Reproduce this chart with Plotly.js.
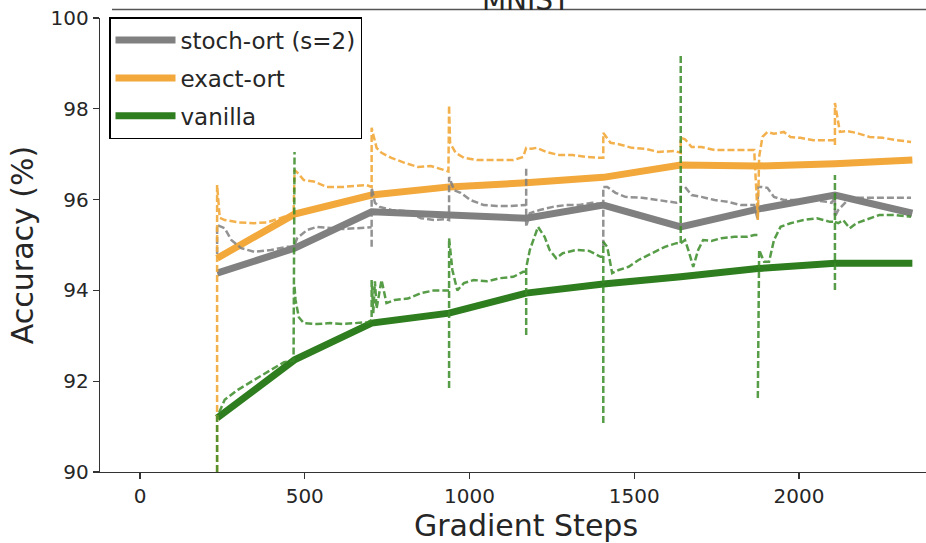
<!DOCTYPE html>
<html>
<head>
<meta charset="utf-8">
<script src="https://cdn.plot.ly/plotly-3.0.1.min.js"></script>
<style>
html, body { margin: 0; padding: 0; overflow: hidden; background: #fff; }
#chart { width: 952px; height: 543px; }
</style>
</head>
<body>
<div id="chart"></div>
<script>
// Epoch-end evaluation steps and smoothed accuracies (thick lines)
const epochSteps = [234, 469, 703, 938, 1172, 1406, 1641, 1875, 2109, 2344];
const stochOrt = [94.38, 94.93, 95.73, 95.66, 95.59, 95.88, 95.40, 95.79, 96.10, 95.70];
const exactOrt = [94.71, 95.68, 96.10, 96.28, 96.37, 96.49, 96.76, 96.74, 96.79, 96.87];
const vanilla  = [91.19, 92.47, 93.28, 93.50, 93.94, 94.14, 94.30, 94.48, 94.60, 94.60];

// Per-step running accuracies (dashed lines); null = pen lift at a spike
const exactOrtStepX = [234, 234, 242, 257, 297, 347, 387, 437, 466, 469, 477, 497, 527, 567, 617, 687, 703, 703, 718, 733, 763, 803, 843, 883, 923, 936, 938, 941, 958, 983, 1023, 1083, 1133, 1163, 1172, 1188, 1203, 1233, 1273, 1313, 1353, 1393, 1406, 1406, 1428, 1453, 1493, 1533, 1573, 1623, 1641, 1641, 1654, 1674, 1704, 1744, 1784, 1824, 1864, 1875, 1879, 1889, 1904, 1924, 1954, 1974, 2004, 2044, 2084, 2099, 2109, 2109, 2109, 2109, 2124, 2144, 2174, 2214, 2254, 2294, 2340];
const exactOrtStepY = [90.0, 96.32, 95.60, 95.55, 95.50, 95.48, 95.50, 95.62, 95.62, 96.65, 96.60, 96.43, 96.40, 96.28, 96.28, 96.32, 96.28, 97.58, 97.14, 97.03, 96.92, 96.81, 96.72, 96.74, 96.65, 96.62, 98.08, 97.25, 97.03, 96.92, 96.87, 96.87, 96.87, 96.94, 97.14, 97.12, 97.14, 97.05, 96.98, 96.98, 96.94, 96.92, 96.92, 97.47, 97.25, 97.22, 97.14, 97.12, 97.05, 97.07, 97.03, 97.36, 97.33, 97.16, 97.16, 97.09, 97.09, 97.09, 97.09, 95.55, 96.94, 97.38, 97.49, 97.45, 97.49, 97.38, 97.36, 97.31, 97.31, 97.31, 97.31, null, 97.20, 98.13, 97.49, 97.51, 97.47, 97.38, 97.36, 97.31, 97.27];

const stochOrtStepX = [234, 234, 257, 277, 307, 347, 397, 447, 466, 469, 477, 507, 537, 577, 617, 657, 692, 703, 703, 703, 703, 713, 728, 763, 803, 853, 893, 928, 938, 938, 953, 973, 1003, 1043, 1083, 1123, 1158, 1172, 1172, 1172, 1172, 1183, 1213, 1253, 1293, 1333, 1373, 1398, 1406, 1406, 1406, 1406, 1418, 1443, 1473, 1523, 1573, 1628, 1641, 1641, 1654, 1674, 1704, 1744, 1784, 1824, 1864, 1875, 1875, 1884, 1904, 1924, 1954, 1994, 2044, 2084, 2099, 2109, 2109, 2119, 2134, 2154, 2194, 2244, 2294, 2340];
const stochOrtStepY = [94.80, 95.44, 95.37, 95.11, 94.93, 94.85, 94.89, 94.96, 94.96, 95.00, 95.15, 95.33, 95.40, 95.37, 95.35, 95.37, 95.39, 95.39, null, 94.96, 96.26, 95.93, 95.84, 95.77, 95.75, 95.59, 95.55, 95.57, 95.55, 96.50, 96.21, 96.15, 95.99, 95.88, 95.86, 95.86, 95.88, 95.88, null, 96.68, 95.40, 95.70, 95.77, 95.84, 95.88, 95.88, 95.93, 95.90, 95.90, null, 94.96, 96.28, 96.28, 96.15, 96.06, 96.04, 95.99, 95.93, 95.95, 96.28, 96.28, 96.10, 96.06, 95.99, 95.95, 95.88, 95.88, 95.55, 96.28, 96.28, 96.26, 96.06, 95.99, 95.99, 95.99, 95.95, 95.93, 96.06, 95.62, 95.77, 95.88, 96.04, 96.04, 96.04, 96.04, 96.04];

const vanillaStepX = [234, 234, 257, 297, 347, 397, 437, 466, 469, 469, 469, 472, 482, 497, 537, 577, 617, 657, 692, 703, 703, 708, 713, 718, 733, 748, 773, 813, 853, 893, 928, 938, 938, 938, 938, 948, 963, 983, 1013, 1053, 1093, 1133, 1163, 1172, 1172, 1172, 1172, 1183, 1208, 1228, 1243, 1263, 1283, 1323, 1363, 1398, 1406, 1406, 1406, 1406, 1418, 1433, 1453, 1483, 1513, 1553, 1593, 1628, 1641, 1641, 1641, 1641, 1654, 1664, 1679, 1694, 1709, 1734, 1764, 1804, 1844, 1864, 1875, 1875, 1875, 1879, 1894, 1909, 1924, 1944, 1974, 2014, 2054, 2094, 2109, 2109, 2109, 2109, 2109, 2109, 2119, 2134, 2154, 2174, 2204, 2244, 2294, 2340];
const vanillaStepY = [90.0, 91.21, 91.59, 91.81, 92.03, 92.25, 92.42, 92.45, 97.05, null, 94.08, 93.79, 93.41, 93.28, 93.26, 93.28, 93.26, 93.28, 93.30, 93.35, 94.23, 93.50, 94.20, 93.60, 94.23, 93.72, 93.79, 93.82, 93.94, 94.00, 94.00, 94.00, null, 91.85, 95.15, 94.45, 94.00, 94.16, 94.23, 94.20, 94.27, 94.30, 94.41, 94.41, null, 93.02, 94.50, 94.89, 95.40, 95.18, 94.89, 94.71, 94.82, 94.89, 94.87, 94.74, 94.74, null, 91.08, 95.07, 94.96, 94.38, 94.45, 94.52, 94.67, 94.82, 94.96, 95.04, 95.04, 99.23, null, 95.04, 95.11, 94.89, 94.52, 94.89, 95.11, 95.09, 95.15, 95.18, 95.18, 95.22, 95.22, null, 91.63, 94.89, 94.63, 94.63, 95.11, 95.40, 95.48, 95.55, 95.59, 95.51, 95.51, null, 94.01, 96.54, null, 95.51, 95.48, 95.55, 95.37, 95.48, 95.55, 95.66, 95.66, 95.62];

const seriesNames = ['stoch-ort (s=2)', 'exact-ort', 'vanilla'];
const xTicks = [0, 500, 1000, 1500, 2000];
const yTicks = [90, 92, 94, 96, 98, 100];

const cGray = '#808080';
const cOrange = '#f2a83a';
const cGreen = '#2e7d1e';
const dash = '7px,3px';

const traces = [
  {x: epochSteps, y: stochOrt, name: seriesNames[0], mode: 'lines', legendgroup: 'a',
   line: {color: cGray, width: 7}},
  {x: epochSteps, y: exactOrt, name: seriesNames[1], mode: 'lines', legendgroup: 'b',
   line: {color: cOrange, width: 7}},
  {x: epochSteps, y: vanilla, name: seriesNames[2], mode: 'lines', legendgroup: 'c',
   line: {color: cGreen, width: 7}},
  {x: stochOrtStepX, y: stochOrtStepY, mode: 'lines', showlegend: false, opacity: 0.85, connectgaps: false,
   line: {color: cGray, width: 2.5, dash: dash}, hoverinfo: 'skip'},
  {x: exactOrtStepX, y: exactOrtStepY, mode: 'lines', showlegend: false, opacity: 0.9, connectgaps: false,
   line: {color: cOrange, width: 2.5, dash: dash}, hoverinfo: 'skip'},
  {x: vanillaStepX, y: vanillaStepY, mode: 'lines', showlegend: false, opacity: 0.85, connectgaps: false,
   line: {color: '#3a8c28', width: 2.5, dash: dash}, hoverinfo: 'skip'}
];

const font = 'DejaVu Sans, Liberation Sans, sans-serif';
const axisCommon = {
  showgrid: false, zeroline: false, showline: true, linecolor: '#333', linewidth: 1.2,
  ticks: 'outside', ticklen: 6, tickwidth: 1.2, tickcolor: '#333',
  tickfont: {family: font, size: 20, color: '#262626'}
};

const layout = {
  width: 952, height: 543,
  margin: {l: 100, r: 0, t: 18, b: 71},
  paper_bgcolor: '#fff', plot_bgcolor: '#fff',
  font: {family: font, color: '#262626'},
  title: {text: 'MNIST', font: {family: font, size: 28, color: '#262626'},
          x: 526 / 952, xanchor: 'center', xref: 'container', yref: 'container', y: 1, yanchor: 'middle'},
  xaxis: Object.assign({}, axisCommon, {
    range: [-121.4, 2464.3], tickvals: xTicks, ticktext: xTicks.map(String),
    title: {text: 'Gradient Steps', font: {family: font, size: 30, color: '#262626'}, standoff: 4}
  }),
  yaxis: Object.assign({}, axisCommon, {
    range: [90, 100], tickvals: yTicks, ticktext: yTicks.map(String),
    title: {text: 'Accuracy (%)', font: {family: font, size: 30, color: '#262626'}, standoff: 8}
  }),
  showlegend: true,
  legend: {
    x: 9 / 852, y: 1.002, xanchor: 'left', yanchor: 'top',
    bgcolor: '#fff', bordercolor: '#000', borderwidth: 1.5,
    font: {family: font, size: 23, color: '#262626'},
    tracegroupgap: 5, itemwidth: 60
  },
  shapes: [
    {type: 'line', xref: 'paper', yref: 'paper', x0: 12 / 852, x1: 1, y0: 1 + 8.5 / 454, y1: 1 + 8.5 / 454,
     line: {color: '#555', width: 1.5}}
  ]
};

Plotly.newPlot('chart', traces, layout, {displayModeBar: false, staticPlot: true});
</script>
</body>
</html>
